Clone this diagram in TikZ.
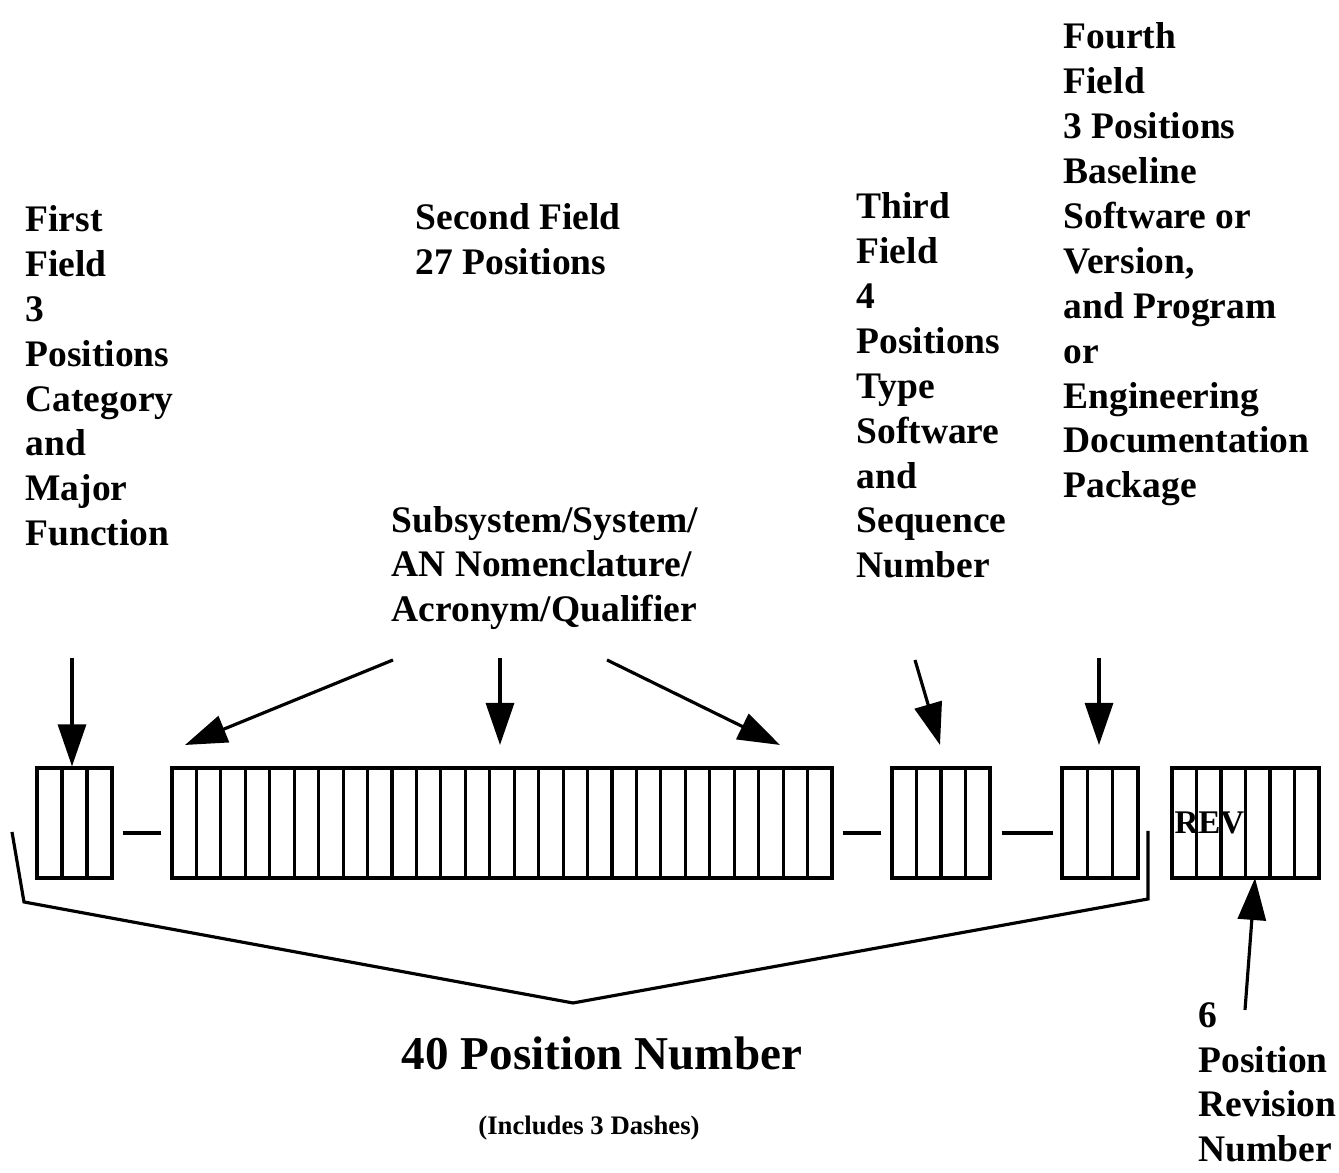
\documentclass[tikz,border=0pt]{standalone}
\usepackage{fontspec}
\setmainfont{Liberation Serif}
\usepackage{tikz}
\usetikzlibrary{arrows.meta,positioning}

\tikzset{
  lbl/.style={anchor=base west, align=left, inner sep=0pt,
    font=\bfseries\fontsize{10.67}{12.8}\selectfont},
  fieldbox/.style={draw, line width=0.9pt, inner sep=0pt, minimum height=1.1cm},
  arr/.style={line width=0.9pt, -{Triangle[width=0.28cm,length=0.42cm]}}
}

\begin{document}
\begin{tikzpicture}[line width=0.9pt]
  \useasboundingbox (0,0) rectangle (13.39,11.73);
  % labels (base = last line)
  \node[lbl] (first) at (0.24,6.27) {First\\Field\\3\\Positions\\Category\\and\\Major\\Function};
  \node[lbl] (second) at (4.14,8.98) {Second Field\\27 Positions};
  \node[lbl] (subsys) at (3.90,5.51) {Subsystem/System/\\AN Nomenclature/\\Acronym/Qualifier};
  \node[lbl] (third) at (8.55,5.95) {Third\\Field\\4\\Positions\\Type\\Software\\and\\Sequence\\Number};
  \node[lbl] (fourth) at (10.62,6.75) {Fourth\\Field\\3 Positions\\Baseline\\Software or\\Version,\\and Program\\or\\Engineering\\Documentation\\Package};
  \node[lbl] (revlbl) at (11.97,0.11) {6\\Position\\Revision\\Number};
  % fields
  \node[fieldbox, minimum width=0.75cm] (f1) at (0.745,3.50) {};
  \node[fieldbox, minimum width=6.60cm] (f2) at (5.02,3.50) {};
  \node[fieldbox, minimum width=0.98cm] (f3) at (9.41,3.50) {};
  \node[fieldbox, minimum width=0.76cm] (f4) at (11.00,3.50) {};
  \node[fieldbox, minimum width=1.47cm] (rev) at (12.455,3.50) {};
  \foreach \i in {1,2} \draw (0.37+\i*0.25,2.95) -- ++(0,1.1);
  \foreach \i in {1,...,26} \draw ({1.72+\i*6.6/27},2.95) -- ++(0,1.1);
  \foreach \i in {1,2,3} \draw (8.92+\i*0.245,2.95) -- ++(0,1.1);
  \foreach \i in {1,2} \draw ({10.62+\i*0.76/3},2.95) -- ++(0,1.1);
  \foreach \i in {1,...,5} \draw (11.72+\i*0.245,2.95) -- ++(0,1.1);
  \node[anchor=base west, inner sep=0pt, font=\bfseries\fontsize{9.4}{11}\selectfont] (revtxt) at (11.73,3.39) {REV};
  % dashes
  \draw ([shift={(0.09,-0.1)}]f1.east) -- ([shift={(-0.09,-0.1)}]f2.west);
  \draw ([shift={(0.09,-0.1)}]f2.east) -- ([shift={(-0.09,-0.1)}]f3.west);
  \draw ([shift={(0.10,-0.1)}]f3.east) -- ([shift={(-0.07,-0.1)}]f4.west);
  % arrows
  \coordinate (a1) at (0.72,5.15);
  \coordinate (a2) at (3.93,5.13);
  \coordinate (a3) at (5.00,5.15);
  \coordinate (a4) at (6.07,5.13);
  \coordinate (a5) at (9.15,5.13);
  \coordinate (a6) at (10.99,5.15);
  \coordinate (a7) at (12.45,1.63);
  \coordinate (t2) at (1.85,4.28);
  \coordinate (t3) at (5.00,4.28);
  \coordinate (t4) at (7.80,4.28);
  \coordinate (t5) at (9.40,4.28);
  \coordinate (t6) at (10.99,4.28);
  \draw[arr] (a1) -- (a1 |- f1.north);
  \draw[arr] (a2) -- (t2);
  \draw[arr] (a3) -- (t3);
  \draw[arr] (a4) -- (t4);
  \draw[arr] (a5) -- (t5);
  \draw[arr] (a6) -- (t6);
  \draw[arr] (a7) -- (12.55,2.95);
  % bracket
  \coordinate (bl) at (0.12,3.41);
  \coordinate (br) at (11.48,3.42);
  \draw[line join=miter] (bl) -- (0.24,2.71) -- (5.73,1.70) -- (11.48,2.74) -- (br);
  \node[anchor=base, inner sep=0pt, font=\bfseries\fontsize{13.4}{16}\selectfont] (total) at (6.02,1.03) {40 Position Number};
  \node[anchor=base, inner sep=0pt, font=\bfseries\fontsize{7.6}{9}\selectfont] (dashes) at (5.89,0.38) {(Includes 3 Dashes)};
\end{tikzpicture}
\end{document}
